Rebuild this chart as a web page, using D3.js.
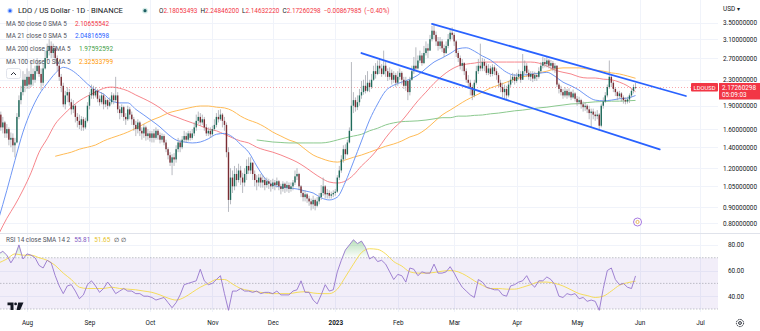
<!DOCTYPE html>
<html>
<head>
<meta charset="utf-8">
<script src="https://cdn.jsdelivr.net/npm/d3@7"></script>
<style>
  html, body { margin: 0; padding: 0; background: #ffffff; }
  svg { display: block; font-family: Roboto, "Noto Sans", "Liberation Sans", sans-serif; }
</style>
</head>
<body>
<svg id="chart" width="760" height="331"></svg>
<script>
// ---------------- data: LDO / USD daily bars, 2022-07-18 .. 2023-05-30 ----------------
const firstDay = "2022-07-18";
const firstOpen = 1.50;

const closes = [
  1.78,1.62,1.68,1.55,1.60,1.48,1.50,1.42,1.45,1.75,
  1.98,2.10,2.30,2.20,2.35,2.22,2.40,2.30,2.45,2.55,
  2.40,2.25,2.50,2.70,2.85,2.95,2.80,2.90,2.70,2.55,
  2.35,2.20,1.92,2.05,2.10,1.95,1.85,1.90,1.75,1.70,
  1.65,1.72,1.62,1.70,1.90,2.05,2.15,2.05,2.12,2.00,
  1.95,2.05,1.92,1.98,1.90,1.95,2.05,1.98,2.05,1.85,
  1.80,1.88,1.75,1.72,1.85,1.78,1.72,1.65,1.60,1.68,
  1.58,1.55,1.62,1.52,1.55,1.50,1.55,1.50,1.58,1.53,
  1.48,1.52,1.45,1.38,1.32,1.25,1.30,1.28,1.38,1.45,
  1.40,1.48,1.52,1.48,1.55,1.50,1.55,1.62,1.70,1.75,
  1.68,1.72,1.62,1.55,1.58,1.54,1.60,1.65,1.75,1.72,
  1.78,1.70,1.65,1.35,0.95,1.12,1.05,1.15,1.10,1.18,
  1.12,1.08,1.15,1.22,1.18,1.25,1.15,1.10,1.08,1.12,
  1.08,1.10,1.06,1.09,1.07,1.05,1.08,1.06,1.09,1.05,
  1.03,1.07,1.04,1.06,1.03,1.05,1.08,1.13,1.15,1.05,
  1.00,0.97,0.99,0.96,0.94,0.92,0.95,0.91,0.94,0.97,
  1.00,1.05,0.99,1.00,0.98,0.99,1.00,1.01,1.12,1.18,
  1.28,1.38,1.33,1.45,1.58,1.90,1.98,1.88,1.95,2.05,
  2.10,2.20,2.12,2.25,2.18,2.30,2.45,2.40,2.55,2.50,
  2.40,2.55,2.45,2.35,2.42,2.30,2.38,2.25,2.35,2.42,
  2.30,2.20,2.28,2.10,2.30,2.45,2.55,2.50,2.65,2.75,
  2.60,2.80,2.90,2.85,3.10,3.30,3.20,3.05,2.95,3.05,
  2.90,2.80,2.95,3.10,3.25,3.20,3.05,2.80,2.70,2.55,
  2.60,2.45,2.30,2.25,2.18,2.05,2.25,2.45,2.55,2.50,
  2.62,2.55,2.42,2.50,2.40,2.52,2.45,2.38,2.25,2.18,
  2.10,2.15,2.05,2.22,2.30,2.35,2.28,2.35,2.40,2.30,
  2.45,2.55,2.42,2.35,2.40,2.32,2.38,2.35,2.45,2.55,
  2.62,2.58,2.65,2.55,2.60,2.50,2.55,2.22,2.15,2.10,
  2.05,2.12,2.05,2.10,2.02,2.08,2.00,1.95,1.98,1.92,
  1.88,1.90,1.85,1.80,1.82,1.78,1.76,1.78,1.64,1.90,
  1.96,2.05,2.18,2.35,2.25,2.15,2.10,2.04,2.08,2.02,
  1.98,1.96,1.99,2.05,2.12,2.18053493,2.17260298
];

const highs = [
  1.85,1.82,1.75,1.70,1.66,1.62,1.56,1.55,1.50,1.80,
  2.05,2.20,2.45,2.40,2.50,2.45,2.66,2.50,2.55,2.70,
  2.65,2.50,2.60,2.85,3.00,3.10,3.05,3.00,2.95,2.75,
  2.60,2.40,2.25,2.12,2.18,2.15,2.00,1.98,1.92,1.80,
  1.78,1.76,1.75,1.74,1.95,2.10,2.22,2.20,2.18,2.15,
  2.05,2.10,2.08,2.02,2.00,2.02,2.10,2.08,2.35,2.10,
  1.90,1.92,1.90,1.80,1.90,1.88,1.82,1.75,1.70,1.72,
  1.70,1.62,1.66,1.64,1.60,1.58,1.58,1.60,1.62,1.60,
  1.56,1.55,1.54,1.48,1.40,1.35,1.33,1.34,1.42,1.50,
  1.48,1.52,1.58,1.56,1.58,1.58,1.60,1.68,1.78,1.82,
  1.80,1.78,1.75,1.66,1.62,1.62,1.64,1.72,1.80,1.84,
  1.85,1.80,1.75,1.68,1.40,1.20,1.18,1.22,1.20,1.24,
  1.22,1.16,1.20,1.28,1.30,1.30,1.25,1.18,1.14,1.15,
  1.15,1.14,1.12,1.12,1.11,1.10,1.11,1.10,1.12,1.10,
  1.07,1.09,1.08,1.09,1.08,1.08,1.10,1.18,1.20,1.16,
  1.06,1.02,1.02,1.00,0.98,0.96,0.98,0.96,0.97,1.00,
  1.06,1.12,1.06,1.03,1.02,1.01,1.02,1.03,1.14,1.22,
  1.32,1.42,1.43,1.48,1.62,2.62,2.10,2.02,2.05,2.15,
  2.28,2.30,2.38,2.45,2.30,2.40,2.55,2.60,2.65,2.70,
  2.58,2.85,2.62,2.50,2.52,2.48,2.45,2.42,2.45,2.50,
  2.45,2.35,2.35,2.30,2.35,2.55,2.72,2.92,2.75,2.85,
  2.80,2.95,3.05,3.00,3.20,3.42,3.47,3.28,3.15,3.15,
  3.10,2.98,3.05,3.22,3.35,3.38,3.25,3.08,2.85,2.75,
  2.68,2.62,2.50,2.38,2.30,2.22,2.30,2.55,2.68,3.00,
  2.70,2.68,2.60,2.58,2.55,2.58,2.56,2.50,2.42,2.30,
  2.25,2.22,2.20,2.28,2.38,2.42,2.40,2.42,2.48,2.45,
  2.78,2.65,2.60,2.48,2.45,2.45,2.44,2.42,2.52,2.62,
  2.72,2.70,2.72,2.68,2.66,2.64,2.60,2.56,2.25,2.20,
  2.15,2.18,2.15,2.16,2.12,2.14,2.10,2.04,2.03,2.00,
  1.96,1.95,1.92,1.90,1.86,1.86,1.82,1.84,1.80,1.93,
  2.02,2.10,2.22,2.65,2.38,2.28,2.18,2.12,2.12,2.10,
  2.05,2.02,2.03,2.08,2.15,2.22,2.24846200
];

const lows = [
  1.48,1.58,1.55,1.50,1.50,1.42,1.40,1.35,1.30,1.44,
  1.72,1.92,2.05,2.10,2.15,2.15,2.18,2.20,2.25,2.40,
  2.35,2.13,2.20,2.48,2.65,2.75,2.70,2.70,2.60,2.45,
  2.28,2.10,1.88,1.85,1.95,1.90,1.78,1.80,1.68,1.62,
  1.60,1.58,1.58,1.60,1.68,1.85,2.00,2.00,2.02,1.95,
  1.90,1.92,1.85,1.88,1.85,1.88,1.92,1.92,1.95,1.80,
  1.72,1.75,1.70,1.65,1.70,1.72,1.65,1.58,1.52,1.55,
  1.52,1.48,1.50,1.47,1.48,1.46,1.45,1.45,1.48,1.48,
  1.44,1.45,1.42,1.35,1.28,1.22,1.14,1.22,1.25,1.35,
  1.35,1.38,1.45,1.45,1.46,1.47,1.48,1.52,1.58,1.66,
  1.64,1.65,1.58,1.52,1.52,1.50,1.52,1.58,1.62,1.68,
  1.70,1.62,1.58,1.30,0.87,0.92,1.00,1.02,1.05,1.08,
  1.06,1.00,1.05,1.10,1.15,1.15,1.10,1.05,1.02,1.05,
  1.04,1.04,1.02,1.04,1.03,1.01,1.03,1.02,1.04,1.02,
  0.99,1.01,1.00,1.01,1.00,1.01,1.02,1.06,1.10,1.02,
  0.97,0.94,0.94,0.93,0.91,0.88,0.89,0.88,0.90,0.92,
  0.95,0.98,0.96,0.96,0.96,0.96,0.97,0.98,1.00,1.10,
  1.16,1.25,1.28,1.32,1.44,1.58,1.80,1.82,1.84,1.90,
  2.00,2.06,2.08,2.10,2.10,2.15,2.28,2.32,2.38,2.40,
  2.35,2.38,2.35,2.28,2.30,2.22,2.25,2.18,2.20,2.30,
  2.22,2.15,2.12,1.98,2.05,2.28,2.40,2.45,2.48,2.60,
  2.55,2.58,2.75,2.70,2.85,3.05,3.10,2.95,2.85,2.88,
  2.82,2.72,2.78,2.90,3.05,3.10,2.95,2.72,2.62,2.48,
  2.45,2.38,2.25,2.15,2.05,1.98,2.02,2.22,2.40,2.45,
  2.45,2.45,2.38,2.38,2.35,2.36,2.38,2.30,2.18,2.10,
  2.02,2.00,1.98,2.02,2.18,2.25,2.22,2.25,2.30,2.25,
  2.30,2.40,2.35,2.30,2.28,2.26,2.28,2.28,2.32,2.42,
  2.50,2.52,2.52,2.50,2.48,2.45,2.42,2.18,2.08,2.05,
  2.00,2.02,2.00,2.02,1.98,2.00,1.96,1.90,1.92,1.86,
  1.82,1.83,1.80,1.72,1.62,1.72,1.70,1.72,1.58,1.62,
  1.86,1.94,2.02,2.15,2.18,2.10,2.04,1.98,2.00,1.96,
  1.93,1.92,1.93,1.94,2.02,2.08,2.14632220
];

// moving averages, one value every 4 days from the first bar (null before enough history)
const maStepDays = 4;
const ma21 = [
  0.83,1.02,1.27,1.565,1.83,2.06,2.24,2.41,2.52,2.47,
  2.36,2.23,2.13,2.07,1.97,1.94,1.94,1.85,1.775,1.70,
  1.625,1.54,1.477,1.455,1.445,1.455,1.49,1.54,1.55,1.51,
  1.43,1.35,1.22,1.116,1.06,1.045,1.037,1.03,1.015,1.0,
  0.965,0.95,0.97,1.084,1.257,1.466,1.71,1.925,2.12,2.21,
  2.26,2.31,2.38,2.50,2.62,2.70,2.79,2.89,2.91,2.84,
  2.74,2.66,2.54,2.43,2.38,2.38,2.40,2.41,2.43,2.36,
  2.26,2.20,2.13,2.04,1.98,1.97,1.98,2.00,2.01,2.04816598
];
const ma50 = [
  0.74,0.83,0.915,1.022,1.16,1.35,1.49,1.66,1.775,1.88,
  1.97,2.04,2.10,2.16,2.18,2.16,2.12,2.056,2.0,1.94,
  1.87,1.79,1.75,1.71,1.675,1.64,1.60,1.58,1.54,1.50,
  1.466,1.445,1.40,1.372,1.35,1.322,1.29,1.255,1.21,1.16,
  1.116,1.084,1.076,1.092,1.141,1.22,1.29,1.38,1.50,1.61,
  1.70,1.83,1.97,2.10,2.24,2.365,2.47,2.545,2.58,2.60,
  2.62,2.62,2.62,2.62,2.62,2.62,2.62,2.60,2.545,2.47,
  2.43,2.40,2.35,2.33,2.33,2.31,2.30,2.26,2.20,2.10655542
];
const ma100 = [
  null,null,null,null,null,null,null,1.31,1.33,1.35,
  1.38,1.40,1.423,1.466,1.50,1.53,1.565,1.61,1.66,1.71,
  1.75,1.80,1.83,1.855,1.88,1.896,1.896,1.88,1.87,1.83,
  1.76,1.71,1.675,1.625,1.565,1.52,1.477,1.445,1.38,1.322,
  1.29,1.265,1.255,1.275,1.30,1.322,1.35,1.38,1.41,1.434,
  1.466,1.51,1.54,1.60,1.685,1.775,1.84,1.91,1.98,2.04,
  2.10,2.165,2.21,2.26,2.31,2.35,2.38,2.42,2.45,2.49,
  2.51,2.51,2.51,2.49,2.47,2.45,2.42,2.40,2.365,2.32533799
];
const ma200 = [
  null,null,null,null,null,null,null,null,null,null,
  null,null,null,null,null,null,null,null,null,null,
  null,null,null,null,null,null,null,null,null,null,
  null,null,1.477,1.466,1.455,1.45,1.445,1.445,1.445,1.445,
  1.445,1.455,1.477,1.50,1.52,1.54,1.58,1.61,1.65,1.675,
  1.69,1.695,1.70,1.71,1.725,1.74,1.74,1.76,1.76,1.77,
  1.775,1.79,1.80,1.815,1.83,1.84,1.855,1.87,1.88,1.896,
  1.91,1.925,1.93,1.945,1.955,1.96,1.965,1.965,1.97,1.97592592
];

// RSI(14), one value every 2 days; its SMA(14), one value every 4 days
const rsiStepDays = 2;
const rsi14 = [
  73,75,72,66,71,80,69,73,72,70,
  64,62,68,66,56,48,42,48,49,44,
  38,41,49,52,48,43,46,51,47,42,
  44,46,44,44,42,42,40,40,39,37,
  38,39,35,31,35,41,49,50,51,52,
  61,52,49,50,53,56,42,29,44,44,
  46,44,44,43,44,42,43,43,42,44,
  41,41,41,44,45,52,43,43,37,34,
  41,49,44,45,59,68,76,80,84,81,
  83,78,69,71,67,68,65,59,53,57,
  56,51,62,61,56,59,58,58,65,58,
  58,59,63,58,52,47,44,41,39,53,
  51,47,46,45,45,41,40,48,49,51,
  52,56,50,47,52,52,55,53,49,40,
  39,42,41,42,38,39,36,37,36,29,
  46,60,62,53,49,50,47,46,55.81
];
const rsiSmaStepDays = 4;
const rsiSma = [
  66,69,73,72,72,70,68,64,58,53,
  47,46,46,46,47,46,45.5,45,44,43,
  41,38.5,37,39,43,47,50,53,53,49.5,
  46,44.5,43.5,42.5,42,42,42,43,43.5,42.5,
  42,42,45.5,55,65,74,77,76.5,73,67,
  63.5,59,58,58,58.5,59.5,60,59,56,52,
  48.5,46,46,45.5,45.5,47,49,51,51,50,
  48,45,42,40.5,39,40,44,48.5,50.5,51.65
];

// axis ticks and drawn trend channel (date, price)
const priceTicks = [3.5, 3.1, 2.7, 2.3, 1.9, 1.6, 1.4, 1.2, 1.05, 0.9, 0.8];
const rsiTicks = [80, 60, 40];
const rsiLevels = [70, 50, 30];
const channelUpper = [["2023-02-18", 3.467], ["2023-06-24", 2.041]];
const channelLower = [["2023-01-14", 2.80], ["2023-06-11", 1.378]];

const lastBar = { o: "2.18053493", h: "2.24846200", l: "2.14632220", c: "2.17260298", chg: "−0.00867985", pct: "(−0.40%)" };
const maLegend = [
  { label: "MA 50 close 0 SMA 5",  value: "2.10655542", color: "#f23645", line: "#f7868c", data: ma50 },
  { label: "MA 21 close 0 SMA 5",  value: "2.04816598", color: "#2962ff", line: "#6f97f5", data: ma21 },
  { label: "MA 200 close 0 SMA 5", value: "1.97592592", color: "#43a047", line: "#8bc98e", data: ma200 },
  { label: "MA 100 close 0 SMA 5", value: "2.32533799", color: "#ff9800", line: "#ffbb55", data: ma100 }
];
const rsiLegend = { label: "RSI 14 close SMA 14 2", rsi: "55.81", sma: "51.65" };
const countdown = "05:09:03";

// ---------------- layout ----------------
const svg = d3.select("#chart");
const paneRight = 718, mainBottom = 233, rsiTop = 234, rsiBottom = 312;
const DAY = 864e5;
const t0 = Date.parse(firstDay + "T00:00:00Z");
const dateAt = (i, step) => new Date(t0 + i * step * DAY);

const x = d3.scaleUtc()
  .domain([new Date(Date.UTC(2022, 7, 1)), new Date(Date.UTC(2023, 6, 1))])
  .range([27, 700]);
const y = d3.scaleLog().domain([3.5, 0.8]).range([22.7, 223.3]);
const yr = d3.scaleLinear().domain([80, 40]).range([244.9, 296.2]);

const bars = closes.map((c, i) => ({
  date: dateAt(i, 1), o: i ? closes[i - 1] : firstOpen, h: highs[i], l: lows[i], c
}));

const defs = svg.append("defs");
defs.append("clipPath").attr("id", "clipMain")
  .append("rect").attr("x", 0).attr("y", 0).attr("width", paneRight).attr("height", mainBottom);
defs.append("clipPath").attr("id", "clipRsi")
  .append("rect").attr("x", 0).attr("y", rsiTop).attr("width", paneRight).attr("height", rsiBottom - rsiTop);

// ---------------- grid ----------------
const months = d3.utcMonths(new Date(Date.UTC(2022, 7, 1)), new Date(Date.UTC(2023, 6, 2)));
const grid = svg.append("g").attr("stroke", "#f0f3fa").attr("stroke-width", 1);
grid.selectAll("line.v").data(months).join("line")
  .attr("x1", d => Math.round(x(d)) + 0.5).attr("x2", d => Math.round(x(d)) + 0.5)
  .attr("y1", 0).attr("y2", rsiBottom);
grid.selectAll("line.h").data(priceTicks).join("line")
  .attr("x1", 0).attr("x2", paneRight)
  .attr("y1", d => Math.round(y(d)) + 0.5).attr("y2", d => Math.round(y(d)) + 0.5);
grid.selectAll("line.r").data(rsiTicks).join("line")
  .attr("x1", 0).attr("x2", paneRight)
  .attr("y1", d => Math.round(yr(d)) + 0.5).attr("y2", d => Math.round(yr(d)) + 0.5);

// pane separator
svg.append("line").attr("x1", 0).attr("x2", 760).attr("y1", mainBottom + 0.5).attr("y2", mainBottom + 0.5)
  .attr("stroke", "#e0e3eb");

// ---------------- main pane ----------------
const main = svg.append("g").attr("clip-path", "url(#clipMain)");

// moving averages
const maLine = step => d3.line()
  .defined(v => v != null)
  .x((v, i) => x(dateAt(i, step)))
  .y(v => y(v))
  .curve(d3.curveMonotoneX);
[maLegend[3], maLegend[2], maLegend[0], maLegend[1]].forEach(m => {
  main.append("path").datum(m.data)
    .attr("fill", "none").attr("stroke", m.line).attr("stroke-width", 1)
    .attr("d", maLine(maStepDays));
});

// last price line
main.append("line")
  .attr("x1", 0).attr("x2", paneRight)
  .attr("y1", y(+lastBar.c)).attr("y2", y(+lastBar.c))
  .attr("stroke", "#f23645").attr("stroke-opacity", 0.55)
  .attr("stroke-width", 0.8).attr("stroke-dasharray", "1,2");

// candles
const upBody = "#1f6b5b", downBody = "#7a2c33", wickColor = "#9a9ca5";
const cg = main.append("g");
cg.selectAll("line").data(bars).join("line")
  .attr("x1", d => x(d.date)).attr("x2", d => x(d.date))
  .attr("y1", d => y(d.h)).attr("y2", d => y(d.l))
  .attr("stroke", wickColor).attr("stroke-width", 0.7);
cg.selectAll("rect").data(bars).join("rect")
  .attr("x", d => x(d.date) - 0.7).attr("width", 1.4)
  .attr("y", d => y(Math.max(d.o, d.c)))
  .attr("height", d => Math.max(0.7, Math.abs(y(d.o) - y(d.c))))
  .attr("fill", d => d.c >= d.o ? upBody : downBody);

// trend channel
const chLine = d3.line().x(d => x(new Date(d[0] + "T00:00:00Z"))).y(d => y(d[1]));
[channelUpper, channelLower].forEach(c => {
  main.append("path").datum(c).attr("d", chLine)
    .attr("stroke", "#2962ff").attr("stroke-width", 1.8).attr("fill", "none")
    .attr("stroke-linecap", "round");
});

// event marker near the time axis
const ev = svg.append("g").attr("transform", `translate(${x(new Date(Date.UTC(2023, 4, 31)))},222)`);
ev.append("circle").attr("r", 4).attr("fill", "#fff").attr("stroke", "#9c6ade").attr("stroke-width", 0.9);
ev.append("circle").attr("r", 1.6).attr("fill", "none").attr("stroke", "#e0a33a").attr("stroke-width", 0.8);

// ---------------- RSI pane ----------------
const rsiG = svg.append("g").attr("clip-path", "url(#clipRsi)");
rsiG.append("rect")
  .attr("x", 0).attr("width", paneRight)
  .attr("y", yr(70)).attr("height", yr(30) - yr(70))
  .attr("fill", "#7e57c2").attr("fill-opacity", 0.1);

const gUp = defs.append("linearGradient").attr("id", "obFill")
  .attr("gradientUnits", "userSpaceOnUse").attr("x1", 0).attr("x2", 0).attr("y1", yr(86)).attr("y2", yr(70));
gUp.append("stop").attr("offset", 0).attr("stop-color", "#4caf50").attr("stop-opacity", 0.45);
gUp.append("stop").attr("offset", 1).attr("stop-color", "#4caf50").attr("stop-opacity", 0.02);
const gDn = defs.append("linearGradient").attr("id", "osFill")
  .attr("gradientUnits", "userSpaceOnUse").attr("x1", 0).attr("x2", 0).attr("y1", yr(30)).attr("y2", yr(24));
gDn.append("stop").attr("offset", 0).attr("stop-color", "#f23645").attr("stop-opacity", 0.02);
gDn.append("stop").attr("offset", 1).attr("stop-color", "#f23645").attr("stop-opacity", 0.45);

const rx = (v, i) => x(dateAt(i, rsiStepDays));
rsiG.append("path").datum(rsi14)
  .attr("fill", "url(#obFill)")
  .attr("d", d3.area().x(rx).y0(yr(70)).y1(v => yr(Math.max(v, 70))));
rsiG.append("path").datum(rsi14)
  .attr("fill", "url(#osFill)")
  .attr("d", d3.area().x(rx).y0(yr(30)).y1(v => yr(Math.min(v, 30))));

rsiG.selectAll("line.lvl").data(rsiLevels).join("line")
  .attr("x1", 0).attr("x2", paneRight)
  .attr("y1", d => yr(d)).attr("y2", d => yr(d))
  .attr("stroke", "#787b86").attr("stroke-opacity", 0.55)
  .attr("stroke-width", 0.8).attr("stroke-dasharray", "1.5,1.5");

rsiG.append("path").datum(rsiSma)
  .attr("fill", "none").attr("stroke", "#f5d94a").attr("stroke-width", 0.9)
  .attr("d", d3.line().x((v, i) => x(dateAt(i, rsiSmaStepDays))).y(v => yr(v)).curve(d3.curveMonotoneX));
rsiG.append("path").datum(rsi14)
  .attr("fill", "none").attr("stroke", "#9575cd").attr("stroke-width", 0.9)
  .attr("d", d3.line().x(rx).y(v => yr(v)));

// ---------------- axes ----------------
const axisFont = 6.4;
const priceAxis = svg.append("g").attr("transform", `translate(${paneRight},0)`)
  .call(d3.axisRight(y).tickValues(priceTicks).tickFormat(d3.format(".8f")).tickSize(0).tickPadding(5));
const rsiAxis = svg.append("g").attr("transform", `translate(${paneRight},0)`)
  .call(d3.axisRight(yr).tickValues(rsiTicks).tickFormat(d3.format(".2f")).tickSize(0).tickPadding(10));
const timeAxis = svg.append("g").attr("transform", `translate(0,${rsiBottom})`)
  .call(d3.axisBottom(x).tickValues(months)
    .tickFormat(d => d.getUTCMonth() === 0 ? d3.utcFormat("%Y")(d) : d3.utcFormat("%b")(d))
    .tickSize(0).tickPadding(8));
[priceAxis, rsiAxis, timeAxis].forEach(a => {
  a.select(".domain").remove();
  a.selectAll("text").attr("font-size", axisFont).attr("fill", "#131722")
    .attr("font-family", "Roboto, 'Noto Sans', sans-serif");
});
timeAxis.selectAll("text").attr("font-weight", d => d.getUTCMonth() === 0 ? 700 : 400);

svg.append("text").attr("x", 723).attr("y", 10.5).attr("font-size", axisFont).attr("fill", "#131722")
  .text("USD ▾");

// last price tags
const py = y(+lastBar.c);
svg.append("rect").attr("x", 691).attr("y", py - 4.5).attr("width", 27).attr("height", 8.5)
  .attr("rx", 1).attr("fill", "#f23645");
svg.append("text").attr("x", 704.5).attr("y", py + 2).attr("text-anchor", "middle")
  .attr("font-size", 5.8).attr("fill", "#fff").text("LDOUSD");
svg.append("rect").attr("x", 719).attr("y", py - 4.5).attr("width", 41).attr("height", 16.5)
  .attr("fill", "#f23645");
svg.append("text").attr("x", 722).attr("y", py + 2).attr("font-size", axisFont).attr("fill", "#fff")
  .text(lastBar.c);
svg.append("text").attr("x", 722).attr("y", py + 9.5).attr("font-size", axisFont).attr("fill", "#fff")
  .text(countdown);

// settings gear
const gear = svg.append("g").attr("transform", "translate(740,323)")
  .attr("fill", "none").attr("stroke", "#131722").attr("stroke-width", 0.9);
gear.append("circle").attr("r", 3.6).attr("stroke-dasharray", "1.6,0.8");
gear.append("circle").attr("r", 1.4);

// ---------------- legends ----------------
const leg = svg.append("g").attr("font-size", axisFont);
const title = svg.append("g");
title.append("circle").attr("cx", 10).attr("cy", 10.7).attr("r", 2.6).attr("fill", "#b9cffb");
title.append("circle").attr("cx", 10).attr("cy", 10.7).attr("r", 1.5).attr("fill", "#2962ff");
title.append("text").attr("x", 18).attr("y", 13.4).attr("font-size", 7.6).attr("fill", "#131722")
  .text("LDO / US Dollar · 1D · BINANCE");
title.append("circle").attr("cx", 145).attr("cy", 10.7).attr("r", 2.9).attr("fill", "#d5ebe7");
title.append("circle").attr("cx", 145).attr("cy", 10.7).attr("r", 1.6).attr("fill", "#1e5f63");

const ohlc = leg.append("text").attr("x", 159).attr("y", 13);
[["O", lastBar.o], ["H", lastBar.h], ["L", lastBar.l], ["C", lastBar.c]].forEach(([k, v], i) => {
  ohlc.append("tspan").attr("fill", "#131722").attr("dx", i ? 3 : 0).text(k);
  ohlc.append("tspan").attr("fill", "#f23645").text(v);
});
ohlc.append("tspan").attr("fill", "#f23645").attr("dx", 3).text(lastBar.chg);
ohlc.append("tspan").attr("fill", "#f23645").attr("dx", 3).text(lastBar.pct);

const maRows = [25.6, 38, 50.6, 64];
maLegend.forEach((m, i) => {
  leg.append("text").attr("x", 6).attr("y", maRows[i]).attr("fill", "#50535e").text(m.label);
  leg.append("text").attr("x", i < 2 ? 75 : 79).attr("y", maRows[i]).attr("fill", m.color).text(m.value);
});

// collapse button
const btn = svg.append("g");
btn.append("rect").attr("x", 6.5).attr("y", 68.5).attr("width", 14).attr("height", 10).attr("rx", 2)
  .attr("fill", "#fff").attr("stroke", "#e0e3eb");
btn.append("path").attr("d", "M11 75 L13.5 72.5 L16 75").attr("fill", "none")
  .attr("stroke", "#131722").attr("stroke-width", 0.9);

const rl = leg.append("text").attr("x", 6).attr("y", 242.3);
rl.append("tspan").attr("fill", "#50535e").text(rsiLegend.label);
rl.append("tspan").attr("fill", "#7e57c2").attr("dx", 4).text(rsiLegend.rsi);
rl.append("tspan").attr("fill", "#e6c229").attr("dx", 4).text(rsiLegend.sma);
rl.append("tspan").attr("fill", "#131722").attr("dx", 4).text("∅ ∅");

// chart brand mark
const logo = svg.append("g").attr("fill", "#131722");
logo.append("path").attr("d", "M7.5 302.5 H13.5 V310 H10.5 V305.2 H7.5 Z");
logo.append("circle").attr("cx", 15.6).attr("cy", 303.9).attr("r", 1.4);
logo.append("path").attr("d", "M18.2 302.5 H23.5 L20.2 310 H16.6 Z");
</script>
</body>
</html>
